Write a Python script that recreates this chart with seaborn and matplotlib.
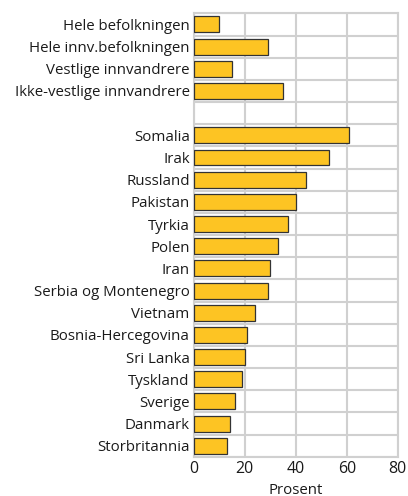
import pandas as pd
import numpy as np
import matplotlib.pyplot as plt
import matplotlib.ticker as mticker
import seaborn as sns

# Group rows at the top, then the countries
groups = ["Hele befolkningen", "Hele innv.befolkningen", "Vestlige innvandrere",
          "Ikke-vestlige innvandrere"]
group_values = [10, 29, 15, 35]

countries = ["Somalia", "Irak", "Russland", "Pakistan", "Tyrkia", "Polen", "Iran",
             "Serbia og Montenegro", "Vietnam", "Bosnia-Hercegovina", "Sri Lanka",
             "Tyskland", "Sverige", "Danmark", "Storbritannia"]
country_values = [61, 53, 44, 40, 37, 33, 30, 29, 24, 21, 20, 19, 16, 14, 13]

x_ticks = [0, 20, 40, 60, 80]
x_label = "Prosent"

df = pd.DataFrame({"kategori": groups + countries,
                   "prosent": group_values + country_values})
# empty slot between the two blocks
order = groups + [" "] + countries

sns.set_theme(style="white")
plt.rcParams["font.family"] = ["Open Sans", "DejaVu Sans"]

fig, ax = plt.subplots(figsize=(4.08, 4.96), dpi=100)
sns.barplot(data=df, y="kategori", x="prosent", order=order, orient="h",
            color="#FDC423", edgecolor="#333333", linewidth=0.9, width=0.72,
            saturation=1, ax=ax, zorder=3)

grid_col = "#d0d0d0"
ax.set_xlim(0, 80)
ax.set_xticks(x_ticks)
ax.set_ylim(len(order) - 0.5, -0.5)
ax.yaxis.set_minor_locator(mticker.FixedLocator(np.arange(-0.5, len(order), 1)))
ax.grid(axis="x", which="major", color=grid_col, linewidth=1.5, zorder=0)
ax.grid(axis="y", which="minor", color=grid_col, linewidth=1.5, zorder=0)
ax.grid(axis="y", which="major", visible=False)
ax.set_axisbelow(True)
for s in ax.spines.values():
    s.set_color(grid_col)
    s.set_linewidth(1.5)

ax.tick_params(axis="y", which="both", length=0, labelsize=10.8, colors="#1a1a1a", pad=3)
ax.tick_params(axis="x", which="both", length=0, labelsize=11.5, colors="#1a1a1a", pad=3)
ax.set_ylabel("")
ax.set_xlabel(x_label, fontsize=10.8, color="#1a1a1a", labelpad=4)

plt.subplots_adjust(left=0.475, right=0.975, top=0.973, bottom=0.079)
plt.savefig("out.png", dpi=100)
